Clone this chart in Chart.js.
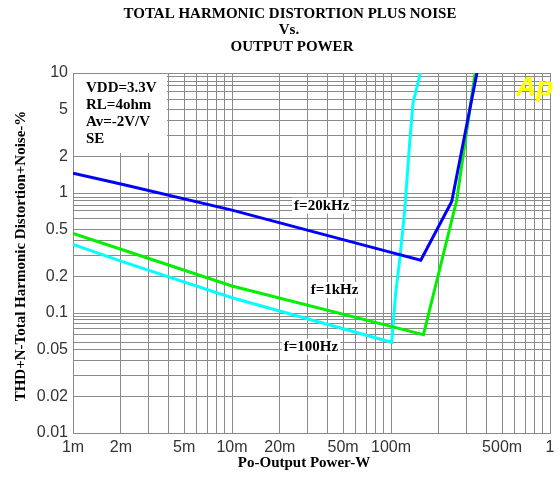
<!DOCTYPE html>
<html>
<head>
<meta charset="utf-8">
<script src="https://cdn.jsdelivr.net/npm/chart.js@4.4.1/dist/chart.umd.min.js"></script>
<style>
  body { margin: 0; background: #fff; }
  canvas { display: block; }
</style>
</head>
<body>
<canvas id="grafica" width="560" height="484"></canvas>
<script>
// Po (W) vs THD+N (%)
var pot20k = [0.001, 0.002, 0.01, 0.1, 0.154, 0.241, 0.347];
var thd20k = [1.46, 1.19, 0.72, 0.32, 0.275, 0.85, 10];

var pot1k = [0.001, 0.002, 0.01, 0.1, 0.16, 0.259, 0.338];
var thd1k = [0.46, 0.34, 0.168, 0.0774, 0.066, 0.87, 10];

var pot100 = [0.001, 0.002, 0.01, 0.101, 0.107, 0.114, 0.122, 0.131, 0.1375, 0.153];
var thd100 = [0.373, 0.271, 0.134, 0.057, 0.146, 0.294, 0.72, 2.6, 5.6, 10];

// tick labels
var xLabelVals = [0.001, 0.002, 0.005, 0.01, 0.02, 0.05, 0.1, 0.5, 1];
var xLabelText = ['1m', '2m', '5m', '10m', '20m', '50m', '100m', '500m', '1'];
var yLabelVals = [10, 5, 2, 1, 0.5, 0.2, 0.1, 0.05, 0.02, 0.01];
var yLabelText = ['10', '5', '2', '1', '0.5', '0.2', '0.1', '0.05', '0.02', '0.01'];

// grid lines as drawn on the analyzer plot
var xGrid = [0.001, 0.002, 0.003, 0.004, 0.005, 0.006, 0.007, 0.008, 0.009,
             0.01, 0.02, 0.03, 0.04, 0.05, 0.06, 0.07, 0.08, 0.09,
             0.1, 0.2, 0.3, 0.4, 0.5, 0.6, 0.7, 0.8, 0.9, 1];
var yGrid = [10, 9.3, 8.5, 7.8, 7, 6, 5, 4, 3, 2,
             1, 0.92, 0.86, 0.78, 0.72, 0.61, 0.5, 0.4, 0.3, 0.2,
             0.1, 0.094, 0.088, 0.081, 0.074, 0.066, 0.057, 0.05, 0.04, 0.03, 0.02, 0.01];

var condiciones = ['VDD=3.3V', 'RL=4ohm', 'Av=-2V/V', 'SE'];

function puntos(xs, ys) {
  return xs.map(function (x, i) { return { x: x, y: ys[i] }; });
}

function etiqueta(v, vals, textos) {
  for (var i = 0; i < vals.length; i++) {
    if (Math.abs(v - vals[i]) / vals[i] < 1e-6) return textos[i];
  }
  return '';
}

var serif = '"Liberation Serif", "Times New Roman", serif';
var gris = '#8a8a8a';

function textoConFondo(c, txt, cx, cy) {
  var w = c.measureText(txt).width;
  c.fillStyle = '#fff';
  c.fillRect(cx - w / 2 - 2, cy - 8, w + 4, 16);
  c.fillStyle = '#000';
  c.fillText(txt, cx, cy);
}

var textos = {
  id: 'textos',
  beforeDraw: function (chart) {
    var c = chart.ctx;
    c.save();
    c.fillStyle = '#fff';
    c.fillRect(0, 0, chart.width, chart.height);
    c.fillStyle = '#000';
    c.font = 'bold 15px ' + serif;
    c.textAlign = 'center';
    c.textBaseline = 'middle';
    c.fillText('TOTAL HARMONIC DISTORTION PLUS NOISE', 290, 14);
    c.fillText('Vs.', 289, 30.5);
    c.fillText('OUTPUT POWER', 292, 47);
    // eje y
    c.save();
    c.translate(21.5, 256);
    c.rotate(-Math.PI / 2);
    c.fillText('THD+N-Total Harmonic Distortion+Noise-%', 0, 0);
    c.restore();
    c.fillText('Po-Output Power-W', 304, 463);
    c.restore();
  },
  beforeDatasetsDraw: function (chart) {
    var c = chart.ctx, a = chart.chartArea;
    c.save();
    c.fillStyle = '#fff';
    c.fillRect(a.left + 1, a.top + 1, 93, 79);
    c.fillStyle = '#000';
    c.font = 'bold 15px ' + serif;
    c.textAlign = 'left';
    c.textBaseline = 'middle';
    for (var i = 0; i < condiciones.length; i++) {
      c.fillText(condiciones[i], 86, 88.5 + i * 16.8);
    }
    c.restore();
  },
  afterDatasetsDraw: function (chart) {
    var c = chart.ctx;
    c.save();
    c.font = 'bold 15px ' + serif;
    c.textAlign = 'center';
    c.textBaseline = 'middle';
    textoConFondo(c, 'f=20kHz', 321.7, 205.7);
    textoConFondo(c, 'f=1kHz', 334.5, 290);
    textoConFondo(c, 'f=100Hz', 311, 346.7);
    c.font = 'italic bold 28px "Liberation Sans", Arial, sans-serif';
    c.fillStyle = '#ffff00';
    c.textAlign = 'left';
    c.textBaseline = 'alphabetic';
    c.fillText('Ap', 516, 96);
    c.restore();
  }
};

new Chart(document.getElementById('grafica'), {
  type: 'line',
  data: {
    datasets: [{
      label: 'f=20kHz',
      data: puntos(pot20k, thd20k),
      borderColor: '#0000ff',
      borderWidth: 3,
      pointRadius: 0,
      tension: 0,
      fill: false
    }, {
      label: 'f=1kHz',
      data: puntos(pot1k, thd1k),
      borderColor: '#00f000',
      borderWidth: 3,
      pointRadius: 0,
      tension: 0,
      fill: false
    }, {
      label: 'f=100Hz',
      data: puntos(pot100, thd100),
      borderColor: '#00ffff',
      borderWidth: 3,
      pointRadius: 0,
      tension: 0,
      fill: false
    }]
  },
  options: {
    responsive: false,
    animation: false,
    devicePixelRatio: 1,
    layout: { padding: { top: 73, right: 10, left: 0, bottom: 0 } },
    plugins: { legend: { display: false }, tooltip: { enabled: false } },
    scales: {
      x: {
        type: 'logarithmic',
        min: 0.001,
        max: 1,
        afterBuildTicks: function (s) { s.ticks = xGrid.map(function (v) { return { value: v }; }); },
        afterFit: function (s) { s.height = 51; },
        grid: { color: gris, lineWidth: 1, drawTicks: false },
        border: { color: gris },
        ticks: {
          autoSkip: false, maxRotation: 0, padding: 5, color: '#333',
          font: { family: '"Liberation Sans", Arial, sans-serif', size: 16 },
          callback: function (v) { return etiqueta(v, xLabelVals, xLabelText); }
        }
      },
      y: {
        type: 'logarithmic',
        min: 0.01,
        max: 10,
        afterBuildTicks: function (s) { s.ticks = yGrid.map(function (v) { return { value: v }; }); },
        afterFit: function (s) { s.width = 73; },
        grid: { color: gris, lineWidth: 1, drawTicks: false },
        border: { color: gris },
        ticks: {
          autoSkip: false, padding: 5, color: '#333',
          font: { family: '"Liberation Sans", Arial, sans-serif', size: 16 },
          callback: function (v) { return etiqueta(v, yLabelVals, yLabelText); }
        }
      }
    }
  },
  plugins: [textos]
});
</script>
</body>
</html>
